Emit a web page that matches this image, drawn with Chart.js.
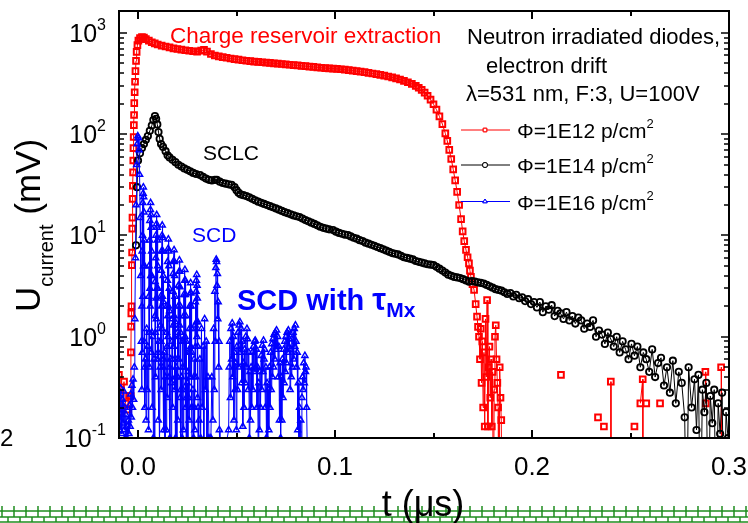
<!DOCTYPE html>
<html>
<head>
<meta charset="utf-8">
<script src="https://cdn.jsdelivr.net/npm/chart.js@4.4.1/dist/chart.umd.min.js"></script>
<style>
html, body { margin: 0; padding: 0; background: #fff; }
canvas { display: block; }
</style>
</head>
<body>
<canvas id="driftChart" width="748" height="523"></canvas>
<script>
// [t (µs), U (mV)]; 0.01 = falls below the axis, null = gap
const fluence12 = [
  [-0.0097,0.42],[-0.0094,0.3],[-0.0090,0.18],[-0.0071,0.36],[-0.0063,0.22],[-0.0050,0.19],[-0.0044,0.26],
  [-0.0037,0.26],[-0.0036,0.7],[-0.0035,1.26],[-0.0034,1.7],[-0.0033,2.0],[-0.0031,5.1],[-0.0030,6.8],
  [-0.0029,11.7],[-0.0028,15],[-0.0027,23],[-0.0026,31],[-0.0025,42],[-0.0024,55],[-0.0023,73],[-0.0022,94],
  [-0.0021,123],[-0.0020,155],[-0.0019,203],[-0.0017,260],[-0.0015,330],[-0.0013,420],[-0.0010,530],
  [-0.0007,650],[-0.0003,760],[0.0002,840],[0.0010,890],[0.0020,910],[0.0030,900],[0.0040,870],[0.0055,840],
  [0.0070,810],[0.0085,790],[0.0100,770],[0.0120,750],[0.0140,735],[0.0160,720],[0.0180,705],[0.0200,695],
  [0.0220,685],[0.0240,675],[0.0260,668],[0.0280,660],[0.0300,655],[0.0320,670],[0.0335,680],[0.0350,655],
  [0.0370,620],[0.0390,600],[0.0410,588],[0.0430,578],[0.0450,570],[0.0470,560],[0.0490,552],[0.0510,545],
  [0.0530,538],[0.0550,532],[0.0570,527],[0.0590,522],[0.0610,518],[0.0630,514],[0.0650,510],[0.0670,506],
  [0.0690,502],[0.0710,498],[0.0730,494],[0.0750,490],[0.0770,486],[0.0790,482],[0.0810,478],[0.0830,474],
  [0.0850,470],[0.0870,466],[0.0890,462],[0.0910,458],[0.0930,454],[0.0950,450],[0.0970,447],[0.0990,445],
  [0.1010,442],[0.1030,438],[0.1050,434],[0.1070,430],[0.1090,425],[0.1110,420],[0.1130,415],[0.1150,410],
  [0.1170,404],[0.1190,398],[0.1210,392],[0.1230,386],[0.1250,379],[0.1270,372],[0.1290,364],[0.1310,356],
  [0.1330,347],[0.1350,337],[0.1370,326],[0.1390,314],[0.1410,300],[0.1425,288],[0.1440,274],[0.1455,258],
  [0.1470,240],[0.1485,220],[0.1500,198],[0.1515,175],[0.1530,150],[0.1545,126],[0.1560,102],[0.1570,86],
  [0.1580,70],[0.1590,57],[0.1600,45],[0.1610,35],[0.1620,27],[0.1630,20],[0.1640,14.5],[0.1648,11],
  [0.1656,8.8],[0.1665,7.2],[0.1673,6.1],
  [0.1680,5.3],[0.1685,4.5],[0.1690,3.9],[0.1698,3.3],[0.1706,2.9],[0.1714,2.1],[0.1721,1.58],[0.1726,1.25],
  [0.1731,1.0],[0.1736,0.6],[0.1740,1.2],[0.1744,0.35],[0.1748,0.9],[0.1752,0.2],[0.1756,0.7],[0.1760,0.13],
  [0.1764,1.5],[0.1768,0.4],[0.1772,2.3],[0.1776,0.13],[0.1780,0.5],[0.1784,0.8],[0.1788,0.25],[0.1792,0.6],
  [0.1796,0.13],[0.1800,0.45],[0.1804,0.01],[0.1808,0.3],[0.1812,1.0],[0.1816,1.3],[0.1820,0.6],[0.1824,0.35],
  [0.1828,0.2],[0.1832,0.01],[0.1836,0.5],[0.1840,0.25],[0.1844,0.15],[0.1848,0.01],[0.1860,null],
  [0.2147,0.42],[0.2150,null],[0.2335,0.16],[0.2340,null],[0.2365,0.13],[0.2370,null],[0.2400,0.36],
  [0.2401,0.01],[0.2405,null],[0.2520,0.13],[0.2525,null],[0.2550,0.22],[0.2562,0.38],[0.2563,0.01],
  [0.2570,null],[0.2580,0.22],[0.2585,null],[0.2650,0.22],[0.2655,null],[0.2880,0.45],[0.2882,0.22],
  [0.2885,null],[0.2960,0.5],[0.2962,0.01]
];
const fluence14 = [
  [-0.0010,8],[-0.0005,30],[0.0000,55],[0.0010,65],[0.0020,73],[0.0030,80],[0.0040,88],[0.0050,96],
  [0.0060,108],[0.0070,122],[0.0078,138],[0.0086,151],[0.0092,142],[0.0098,125],[0.0104,105],[0.0110,90],
  [0.0117,80],[0.0127,75],[0.0140,68],[0.0150,62],[0.0160,59],[0.0175,56],[0.0190,53],[0.0205,50],
  [0.0220,48],[0.0235,46],[0.0250,44.5],[0.0265,43],[0.0280,41.5],[0.0295,40.5],[0.0315,39.5],[0.0330,38],
  [0.0345,36.5],[0.0360,35.5],[0.0375,35],[0.0390,35.5],[0.0400,35.5],[0.0415,34],[0.0430,33],[0.0445,32.5],
  [0.0460,32],[0.0475,31.6],[0.0490,30],[0.0500,28],[0.0510,26.5],[0.0520,25.5],[0.0535,25],[0.0550,24.5],
  [0.0565,23.8],[0.0580,23],[0.0595,22.3],[0.0610,21.6],[0.0625,21],[0.0640,20.5],[0.0655,20],[0.0670,19.5],
  [0.0685,19],[0.0700,18.5],[0.0715,18],[0.0730,17.5],[0.0745,17],[0.0760,16.6],[0.0775,16.2],[0.0790,15.8],
  [0.0805,15.5],[0.0820,15.2],[0.0835,14.7],[0.0850,14.2],[0.0865,13.8],[0.0880,13.4],[0.0895,13],[0.0910,12.6],
  [0.0925,12.2],[0.0940,11.9],[0.0955,11.7],[0.0970,11.5],[0.0990,11.3],[0.1005,10.9],[0.1020,10.6],[0.1035,10.4],
  [0.1050,10.2],[0.1066,10.1],[0.1080,9.8],[0.1095,9.5],[0.1110,9.3],[0.1125,9.0],[0.1140,8.8],[0.1155,8.5],
  [0.1170,8.3],[0.1185,8.1],[0.1200,7.9],[0.1215,7.7],[0.1230,7.5],[0.1245,7.3],[0.1260,7.1],[0.1275,6.9],
  [0.1290,6.7],[0.1305,6.6],[0.1320,6.5],[0.1335,6.3],[0.1350,6.1],[0.1365,6.0],[0.1380,5.9],[0.1395,5.8],
  [0.1410,5.6],[0.1425,5.5],[0.1440,5.4],[0.1455,5.3],[0.1470,5.2],[0.1485,5.15],[0.1500,5.1],[0.1515,4.9],
  [0.1530,4.7],[0.1545,4.5],[0.1560,4.3],[0.1575,4.1],[0.1590,4.0],[0.1605,3.9],[0.1620,3.85],[0.1635,3.8],
  [0.1650,3.7],[0.1665,3.6],[0.1680,3.5],[0.1695,3.55],[0.1710,3.5],[0.1725,3.45],[0.1740,3.4],[0.1755,3.35],
  [0.1770,3.25],[0.1785,3.15],[0.1800,3.05],[0.1815,2.95],[0.1830,2.9],[0.1845,2.85],[0.1860,2.75],[0.1875,2.65],
  [0.1890,2.7],[0.1905,2.5],[0.1920,2.6],[0.1935,2.4],[0.1950,2.45],[0.1965,2.25],[0.1980,2.35],[0.1995,2.1],
  [0.2010,2.2],[0.2025,1.95],[0.2040,2.2],[0.2055,1.75],[0.2070,2.0],[0.2085,1.85],[0.2100,2.05],[0.2115,1.6],
  [0.2130,1.8],[0.2145,1.7],[0.2160,1.5],[0.2175,1.75],[0.2190,1.45],[0.2205,1.6],[0.2220,1.35],[0.2235,1.55],
  [0.2250,1.45],[0.2265,1.2],[0.2280,1.35],[0.2295,1.25],[0.2310,1.45],[0.2325,1.0],[0.2340,1.15],[0.2355,1.05],
  [0.2370,0.85],[0.2385,1.1],[0.2400,0.95],[0.2415,0.8],[0.2430,1.0],[0.2445,0.7],[0.2460,0.9],[0.2475,0.75],
  [0.2490,0.6],[0.2505,0.85],[0.2520,0.65],[0.2535,0.8],[0.2550,0.5],[0.2565,0.7],[0.2580,0.6],[0.2595,0.45],
  [0.2610,0.75],[0.2625,0.4],[0.2640,0.55],[0.2655,0.62],[0.2670,0.33],[0.2685,0.5],[0.2700,0.28],[0.2715,0.58],
  [0.2730,0.22],[0.2745,0.45],[0.2760,0.35],[0.2775,0.16],[0.2785,0.01],[0.2795,0.5],[0.2810,0.2],[0.2825,0.38],
  [0.2835,0.12],[0.2845,0.42],[0.2855,0.01],[0.2865,0.3],[0.2875,0.18],[0.2885,0.35],[0.2895,0.01],[0.2905,0.26],
  [0.2915,0.14],[0.2925,0.3],[0.2935,0.01],[0.2945,0.22],[0.2955,0.11],[0.2965,0.28],[0.2975,0.01],[0.2985,0.18],
  [0.2995,0.1]
];
const fluence16 = [
  [-0.0097,0.16],[-0.0094,0.26],[-0.0091,0.12],[-0.0088,0.31],[-0.0085,0.19],[-0.0082,0.11],[-0.0079,0.24],
  [-0.0076,0.14],[-0.0073,0.29],[-0.0070,0.12],[-0.0067,0.2],[-0.0064,0.1],[-0.0061,0.17],[-0.0058,0.05],
  [-0.0055,0.13],[-0.0052,0.09],[-0.0049,0.15],[-0.0046,0.11],[-0.0043,0.21],[-0.0040,0.13],[-0.0037,0.27],
  [-0.0034,0.16],[-0.0031,0.33],[-0.0028,0.2],[-0.0025,0.38],[-0.0022,0.24],[-0.0019,0.5],
  [-0.0016,1.5],[-0.0013,6],[-0.0010,20],[-0.0007,50],[-0.0004,80],[-0.0001,96],[0.0002,92],[0.0005,70],
  [0.0008,40],[0.0011,15],[0.0014,4],[0.0017,0.9],
  [0.0019,0.3],[0.0020,2],[0.0021,7],[0.0022,0.7],[0.0023,10],[0.0024,21],[0.0025,2.5],[0.0026,26],
  [0.0027,30],[0.0028,5],[0.0029,24],[0.0030,17],[0.0031,0.9],[0.0032,9],[0.0033,5],[0.0034,0.5],[0.0035,0.2],
  [0.0038,0.6],[0.0041,0.15],[0.0044,1.2],[0.0047,0.3],[0.0050,0.8],[0.0053,0.12],[0.0055,2.5],[0.0056,5],
  [0.0057,1.1],[0.0058,0.5],[0.0059,9],[0.0060,14],[0.0061,3],[0.0062,2],[0.0063,18],[0.0064,21],[0.0065,4],
  [0.0066,16],[0.0067,12],[0.0068,0.7],[0.0069,7],[0.0070,4],[0.0071,1.1],[0.0072,0.2],
  [0.0075,1],[0.0078,0.1],[0.0081,0.6],[0.0084,0.05],[0.0086,1.6],[0.0087,3.5],[0.0088,1.1],[0.0089,0.4],
  [0.0090,6],[0.0091,10],[0.0092,2.4],[0.0093,1.5],[0.0094,13],[0.0095,16],[0.0096,3],[0.0097,12],[0.0098,9],
  [0.0099,0.6],[0.0100,5],[0.0101,3],[0.0102,0.7],[0.0103,0.15],
  [0.0106,0.9],[0.0109,0.08],[0.0112,0.5],[0.0114,1.3],[0.0115,2.5],[0.0116,0.9],[0.0117,0.3],[0.0118,4.5],
  [0.0119,7],[0.0120,2],[0.0121,1.2],[0.0122,10],[0.0123,12.6],[0.0124,2.5],[0.0125,9.5],[0.0126,7],
  [0.0127,0.5],[0.0128,4],[0.0129,2.2],[0.0130,0.6],[0.0131,0.12],
  [0.0134,0.7],[0.0137,0.05],[0.0140,0.4],[0.0143,0.12],[0.0145,1.1],[0.0146,2],[0.0147,0.8],[0.0148,0.25],
  [0.0149,3.6],[0.0150,5.5],[0.0151,1.6],[0.0152,1],[0.0153,7.4],[0.0154,9.2],[0.0155,2],[0.0156,7],
  [0.0157,5],[0.0158,0.4],[0.0159,3],[0.0160,1.8],[0.0161,0.5],[0.0162,0.1],
  [0.0165,0.6],[0.0168,0.07],[0.0171,0.35],[0.0173,0.9],[0.0174,1.5],[0.0175,0.6],[0.0176,0.2],[0.0177,2.8],
  [0.0178,4.2],[0.0179,1.3],[0.0180,0.8],[0.0181,5.6],[0.0183,7.2],[0.0184,1.6],[0.0185,5.5],[0.0186,4],
  [0.0187,0.3],[0.0188,2.5],[0.0189,1.4],[0.0190,0.4],[0.0191,0.1],
  [0.0194,0.5],[0.0197,0.05],[0.0199,0.6],[0.0200,1.1],[0.0201,0.4],[0.0202,0.15],[0.0204,2],[0.0205,3.2],
  [0.0206,1],[0.0207,0.6],[0.0209,4.4],[0.0210,5.7],[0.0211,1.3],[0.0212,4.4],[0.0213,3.1],[0.0214,0.25],
  [0.0215,2],[0.0216,1.1],[0.0217,0.3],[0.0218,0.08],
  [0.0221,0.4],[0.0224,0.1],[0.0226,0.5],[0.0227,0.9],[0.0228,0.3],[0.0230,0.12],[0.0232,1.6],[0.0233,2.6],
  [0.0234,0.9],[0.0235,0.5],[0.0237,3.6],[0.0238,4.6],[0.0239,1],[0.0240,3.6],[0.0241,2.6],[0.0242,0.2],
  [0.0243,1.6],[0.0244,0.9],[0.0245,0.25],[0.0246,0.06],
  [0.0250,0.35],[0.0253,0.08],[0.0255,0.45],[0.0256,0.7],[0.0257,0.25],[0.0259,0.15],[0.0261,1.2],[0.0262,2],
  [0.0263,0.7],[0.0264,0.4],[0.0266,2.7],[0.0267,3.4],[0.0268,0.8],[0.0269,2.7],[0.0270,2],[0.0271,0.2],
  [0.0272,1.2],[0.0273,0.7],[0.0274,0.2],[0.0275,0.05],
  [0.0279,0.3],[0.0282,0.1],[0.0284,0.4],[0.0285,0.6],[0.0286,0.2],[0.0288,0.12],[0.0290,1.3],[0.0291,2.2],
  [0.0292,0.8],[0.0293,0.4],[0.0295,2.8],[0.0296,3.6],[0.0297,1.4],[0.0298,4.1],[0.0299,1],[0.0300,3.2],
  [0.0301,2.4],[0.0302,0.25],[0.0303,1.4],[0.0304,0.8],[0.0305,0.2],[0.0306,0.05],
  [0.0310,0.15],[0.0314,0.6],[0.0318,0.1],[0.0322,1.2],[0.0326,0.2],[0.0330,0.8],[0.0334,0.05],[0.0338,1.5],
  [0.0342,0.3],[0.0346,0.9],[0.0350,0.05],[0.0355,0.4],[0.0360,0.1],
  [0.0370,0.1],[0.0375,0.4],[0.0380,0.15],[0.0384,1.2],[0.0387,0.3],[0.0390,2.8],[0.0392,0.9],[0.0395,4.8],
  [0.0397,5.8],[0.0399,5.5],[0.0401,3.2],[0.0403,4.2],[0.0405,1.5],[0.0407,2.2],[0.0409,0.5],[0.0411,0.9],
  [0.0413,0.12],[0.0416,0.05],[0.0425,0.05],
  [0.0460,0.12],[0.0463,0.5],[0.0466,0.9],[0.0469,0.25],[0.0472,1.2],[0.0475,0.6],[0.0478,1.36],[0.0481,0.4],
  [0.0484,1.0],[0.0487,0.15],[0.0490,0.7],[0.0493,0.3],[0.0496,0.55],[0.0499,0.12],[0.0502,0.8],[0.0505,0.3],
  [0.0508,1.1],[0.0511,0.5],[0.0514,1.3],[0.0517,1.4],[0.0520,0.7],[0.0523,1.2],[0.0526,0.35],[0.0529,0.9],
  [0.0532,0.13],[0.0535,0.55],[0.0538,0.2],[0.0541,0.75],[0.0544,0.35],[0.0547,1.0],[0.0550,0.5],[0.0553,1.2],
  [0.0556,0.95],[0.0559,0.3],[0.0562,0.7],[0.0565,0.1],[0.0568,0.45],[0.0571,0.15],[0.0574,0.5],[0.0577,0.2],
  [0.0580,0.7],[0.0583,0.3],[0.0586,0.8],[0.0589,0.45],[0.0592,0.9],[0.0595,0.92],[0.0598,0.5],[0.0601,0.75],
  [0.0604,0.2],[0.0607,0.5],[0.0610,0.08],[0.0613,0.35],[0.0616,0.12],[0.0619,0.45],[0.0622,0.2],[0.0625,0.65],
  [0.0628,0.3],[0.0631,0.82],[0.0634,0.45],[0.0637,0.92],[0.0640,0.6],[0.0643,0.75],[0.0646,0.2],[0.0649,0.5],
  [0.0652,0.1],[0.0655,0.35],[0.0658,0.05],[0.0661,0.3],[0.0664,0.12],[0.0667,0.5],[0.0670,0.2],[0.0673,0.7],
  [0.0676,0.3],[0.0679,0.85],[0.0682,0.4],[0.0685,0.95],[0.0688,0.5],[0.0691,1.05],[0.0694,0.6],[0.0697,1.1],
  [0.0700,0.75],[0.0703,1.16],[0.0706,0.8],[0.0709,1.0],[0.0712,0.4],[0.0715,0.8],[0.0718,0.15],[0.0721,0.55],
  [0.0724,0.1],[0.0727,0.4],[0.0730,0.15],[0.0733,0.6],[0.0736,0.25],[0.0739,0.75],[0.0742,0.35],[0.0745,0.9],
  [0.0748,0.45],[0.0751,1.0],[0.0754,0.55],[0.0757,1.1],[0.0760,0.7],[0.0763,1.16],[0.0766,0.8],[0.0769,0.95],
  [0.0772,0.3],[0.0775,0.75],[0.0778,0.4],[0.0781,0.95],[0.0784,0.5],[0.0787,1.1],[0.0790,0.6],[0.0793,1.2],
  [0.0796,0.8],[0.0799,1.3],[0.0802,0.9],[0.0805,0.5],[0.0808,0.7],[0.0811,0.12],[0.0814,0.35],[0.0817,0.08],
  [0.0820,0.2],[0.0823,0.05],[0.0826,0.15],[0.0829,0.05],[0.0832,0.25],[0.0835,0.4],[0.0838,0.3],[0.0841,0.55],
  [0.0844,0.35],[0.0847,0.65],[0.0850,0.45],[0.0853,0.5],[0.0856,0.2],[0.0859,0.08]
];

const seriesData = [fluence12, fluence14, fluence16];
const seriesNames = ['\u03A6=1E12 p/cm', '\u03A6=1E14 p/cm', '\u03A6=1E16 p/cm'];
const xTicks = [0, 0.1, 0.2, 0.3];
const xMinorTicks = [0.05, 0.15, 0.25];
const yTicks = [0.1, 1, 10, 100, 1000];

const colors = ['#ff0000', '#000000', '#0000ff'];
const markers = ['rect', 'circle', 'triangle'];
const markerSize = [4, 3.2, 3.5];
const markerLine = [2, 1.8, 1.5];
const FONT = '"Liberation Sans", Arial, sans-serif';

function supText(ctx, parts, x, y) {
  // parts: [text, size, dy, bold]
  let cx = x;
  parts.forEach(([txt, size, dy, bold]) => {
    ctx.font = (bold ? 'bold ' : '') + size + 'px ' + FONT;
    ctx.fillText(txt, cx, y + dy);
    cx += ctx.measureText(txt).width;
  });
}

const decorations = {
  id: 'decorations',
  beforeDraw(chart) {
    const ctx = chart.ctx;
    ctx.save();
    ctx.fillStyle = '#fff';
    ctx.fillRect(0, 0, chart.width, chart.height);
    ctx.restore();
  },
  afterDraw(chart) {
    const { ctx, chartArea: a, scales: { x, y } } = chart;
    ctx.save();
    ctx.strokeStyle = '#000';
    ctx.lineWidth = 2;
    ctx.strokeRect(a.left, a.top, a.right - a.left, a.bottom - a.top);

    // inward ticks on all four sides
    const tick = (x1, y1, x2, y2) => { ctx.beginPath(); ctx.moveTo(x1, y1); ctx.lineTo(x2, y2); ctx.stroke(); };
    xTicks.forEach(v => {
      const px = Math.round(x.getPixelForValue(v));
      tick(px, a.bottom, px, a.bottom - 8);
      tick(px, a.top, px, a.top + 8);
    });
    xMinorTicks.forEach(v => {
      const px = Math.round(x.getPixelForValue(v));
      tick(px, a.bottom, px, a.bottom - 5);
      tick(px, a.top, px, a.top + 5);
    });
    ctx.lineWidth = 1.5;
    yTicks.forEach(v => {
      const py = Math.round(y.getPixelForValue(v));
      tick(a.left, py, a.left + 8, py);
      tick(a.right, py, a.right - 8, py);
      for (let m = 2; m <= 9; m++) {
        const mv = v * m;
        if (mv > y.max) break;
        const my = Math.round(y.getPixelForValue(mv));
        tick(a.left, my, a.left + 5, my);
        tick(a.right, my, a.right - 5, my);
      }
    });

    // tick labels
    ctx.fillStyle = '#000';
    ctx.textBaseline = 'alphabetic';
    ctx.textAlign = 'center';
    ctx.font = '26px ' + FONT;
    xTicks.forEach(v => ctx.fillText(v.toFixed(1), x.getPixelForValue(v), 475));
    yTicks.forEach(v => {
      const py = y.getPixelForValue(v);
      const exp = String(Math.round(Math.log10(v)));
      ctx.font = '16px ' + FONT;
      const sw = ctx.measureText(exp).width;
      ctx.textAlign = 'left';
      ctx.fillText(exp, 106 - sw, py - 3);
      ctx.font = '25px ' + FONT;
      ctx.textAlign = 'right';
      ctx.fillText('10', 106 - sw, py + 9);
    });
    ctx.textAlign = 'left';
    ctx.font = '24px ' + FONT;
    ctx.fillText('2', 0, 446);

    // y title
    ctx.save();
    ctx.translate(40, 312);
    ctx.rotate(-Math.PI / 2);
    supText(ctx, [['U', 35, 0], ['current', 20, 13], [' (mV)', 35, 0]], 0, 0);
    ctx.restore();

    // green hatch strip along the bottom
    ctx.strokeStyle = '#1e8c1e';
    ctx.lineWidth = 1.5;
    [511, 517, 522].forEach(gy => tick(0, gy, chart.width, gy));
    for (let gx = 2; gx < chart.width; gx += 12) {
      tick(gx, 506, gx, 511);
      tick(gx, 511, gx, 517);
      tick(gx + 6, 517, gx + 6, 522);
    }

    // x title
    ctx.fillStyle = '#000';
    ctx.textAlign = 'center';
    ctx.font = '36px ' + FONT;
    ctx.fillText('t (\u03BCs)', 423, 516);

    // annotations
    ctx.textAlign = 'left';
    ctx.fillStyle = '#ff0000';
    ctx.font = '22.5px ' + FONT;
    ctx.fillText('Charge reservoir extraction', 170, 43);
    ctx.fillStyle = '#000';
    ctx.font = '22px ' + FONT;
    ctx.fillText('Neutron irradiated diodes,', 467, 44);
    ctx.fillText('electron drift', 486, 73);
    ctx.fillText('\u03BB=531 nm, F:3, U=100V', 466, 101);
    ctx.font = '21px ' + FONT;
    ctx.fillText('SCLC', 203, 160);
    ctx.fillStyle = '#0000ff';
    ctx.fillText('SCD', 192, 242);
    supText(ctx, [['SCD with ', 29, 0, true], ['\u03C4', 31, 0, true], ['Mx', 21, 7, true]], 237, 310);

    // legend
    const rows = [130, 165, 201.5];
    rows.forEach((ly, i) => {
      ctx.strokeStyle = colors[i];
      ctx.lineWidth = 1;
      tick(461, ly, 510, ly);
      ctx.fillStyle = '#fff';
      Chart.helpers.drawPoint(ctx, { pointStyle: markers[i], radius: 2.5, borderWidth: 1 }, 485, ly);
      ctx.fill();
      ctx.stroke();
      ctx.fillStyle = '#000';
      supText(ctx, [[seriesNames[i], 21, 0], ['2', 13, -10]], 517, ly + 8);
    });
    ctx.restore();
  }
};

new Chart(document.getElementById('driftChart'), {
  type: 'scatter',
  data: {
    datasets: seriesData.map((pts, i) => ({
      label: seriesNames[i],
      data: pts.map(p => ({ x: p[0], y: p[1] })),
      showLine: true,
      borderColor: colors[i],
      borderWidth: 1,
      pointStyle: markers[i],
      pointRadius: markerSize[i],
      pointBorderWidth: markerLine[i],
      pointBorderColor: colors[i],
      pointBackgroundColor: 'rgba(255,255,255,0)',
      order: 2 - i
    }))
  },
  options: {
    responsive: false,
    animation: false,
    devicePixelRatio: 1,
    layout: { padding: { left: 119, right: 19, top: 11, bottom: 85 } },
    scales: {
      x: {
        type: 'linear', min: -0.00965, max: 0.3, display: false,
        afterFit: s => { s.height = 0; }
      },
      y: {
        type: 'logarithmic', min: 0.1, max: 1649, display: false,
        afterFit: s => { s.width = 0; }
      }
    },
    plugins: { legend: { display: false }, tooltip: { enabled: false } }
  },
  plugins: [decorations]
});
</script>
</body>
</html>
